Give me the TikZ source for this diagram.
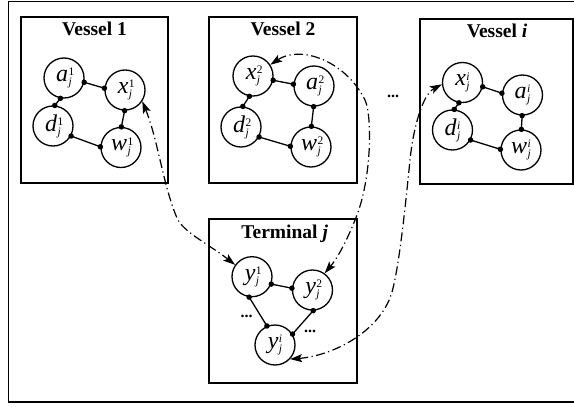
\documentclass[tikz,border=0pt]{standalone}
\usepackage{fontspec}
\setmainfont{Liberation Serif}
\usetikzlibrary{arrows.meta}
\newcommand{\clab}[2]{\fontsize{24}{24}\selectfont\textit{#1}\kern0.5pt\makebox[0pt][l]{\raisebox{5.5pt}{\fontsize{11.5}{11.5}\selectfont #2}}\raisebox{-4pt}{\fontsize{11.5}{11.5}\selectfont\textit{j}}}
\begin{document}
\begin{tikzpicture}[x=1pt,y=-1pt,
  box/.style={line width=1.6pt},
  st/.style={circle,draw,line width=1.3pt,minimum size=40pt,inner sep=0pt},
  dot/.style={circle,fill,inner sep=0pt,minimum size=5.5pt},
  conn/.style={line width=1.3pt},
  title/.style={font=\fontsize{19.5}{20}\selectfont\bfseries,anchor=base,inner sep=0pt},
  ell/.style={font=\fontsize{16}{16}\selectfont\bfseries,inner sep=0pt},
  link/.style={line width=1.2pt,dash pattern=on 9pt off 3.5pt on 1.2pt off 3.5pt,
    {Stealth[length=12pt,width=8pt,inset=2.5pt]}-{Stealth[length=12pt,width=8pt,inset=2.5pt]}}]
\useasboundingbox (0,0) rectangle (574,407);
% outer frame (right side cut off)
\draw[box] (590,1.5) -- (8.5,1.5) -- (8.5,402) -- (590,402);
% boxes
\draw[box] (21,17) rectangle (168,183);
\draw[box] (209,17) rectangle (357,183);
\draw[box] (420,19) rectangle (573,184);
\draw[box] (209,219) rectangle (357,383);
% titles
\node[title] (t1) at (94.5,35) {Vessel 1};
\node[title] (t2) at (283,35) {Vessel 2};
\node[title] (ti) at (497,37) {Vessel \textit{i}};
\node[title] (tt) at (284.7,238) {Terminal \textit{j}};
% vessel 1
\node[st] (v1a) at (64,78) {\clab{a}{1}};
\node[st] (v1x) at (125,90) {\clab{x}{1}};
\node[st] (v1d) at (53,126) {\clab{d}{1}};
\node[st] (v1w) at (121,147.5) {\clab{w}{1}};
% vessel 2
\node[st] (v2x) at (253,76) {\clab{x}{2}};
\node[st] (v2a) at (314,86) {\clab{a}{2}};
\node[st] (v2d) at (241,127) {\clab{d}{2}};
\node[st] (v2w) at (311,147) {\clab{w}{2}};
% vessel i
\node[st] (vix) at (462.5,82.5) {\clab{x}{\textit{i}}};
\node[st] (via) at (522.5,95) {\clab{a}{\textit{i}}};
\node[st] (vid) at (452.5,130) {\clab{d}{\textit{i}}};
\node[st] (viw) at (521,150) {\clab{w}{\textit{i}}};
% terminal
\node[st] (ty1) at (252,276.7) {\clab{y}{1}};
\node[st] (ty2) at (312.5,290) {\clab{y}{2}};
\node[st] (tyi) at (275,345) {\clab{y}{\textit{i}}};
% vessel edges
\foreach \tl/\tr/\bl/\br in {v1a/v1x/v1d/v1w, v2x/v2a/v2d/v2w, vix/via/vid/viw}{
  \draw[conn] (\tl.-12) -- (\tr.175) node[dot,pos=0]{} node[dot,pos=1]{};
  \draw[conn] (\tl.-100) -- (\bl.85) node[dot,pos=0]{} node[dot,pos=1]{};
  \draw[conn] (\tr.-91) -- (\br.89) node[dot,pos=0]{} node[dot,pos=1]{};
  \draw[conn] (\bl.-29) -- (\br.178) node[dot,pos=0]{} node[dot,pos=1]{};
}
% terminal edges
\draw[conn] (ty1.-21) -- (ty2.175) node[dot,pos=0]{} node[dot,pos=1]{};
\draw[conn] (ty1.-98) -- (tyi.113) node[dot,pos=0]{} node[dot,pos=1]{};
\draw[conn] (ty2.-88) -- (tyi.32) node[dot,pos=0]{} node[dot,pos=1]{};
% ellipses
\node[ell] (e1) at (246.7,316) {...};
\node[ell] (e2) at (310,331.7) {...};
\node[ell] (e3) at (393,96) {...};
% dash-dot links
\draw[link] (v1x.-33) .. controls (158,140) and (163,185) .. (177,218)
  .. controls (183,232) and (210,245) .. (ty1.145);
\draw[link] (v2x.33) .. controls (300,45) and (345,60) .. (365,100)
  .. controls (372,115) and (372,175) .. (357,215)
  .. controls (351,231) and (340,255) .. (ty2.54);
\draw[link] (tyi.-43) .. controls (330,356) and (375,335) .. (390,298)
  .. controls (398,278) and (405,210) .. (410,160)
  .. controls (413,130) and (422,95) .. (vix.185);
\end{tikzpicture}
\end{document}
